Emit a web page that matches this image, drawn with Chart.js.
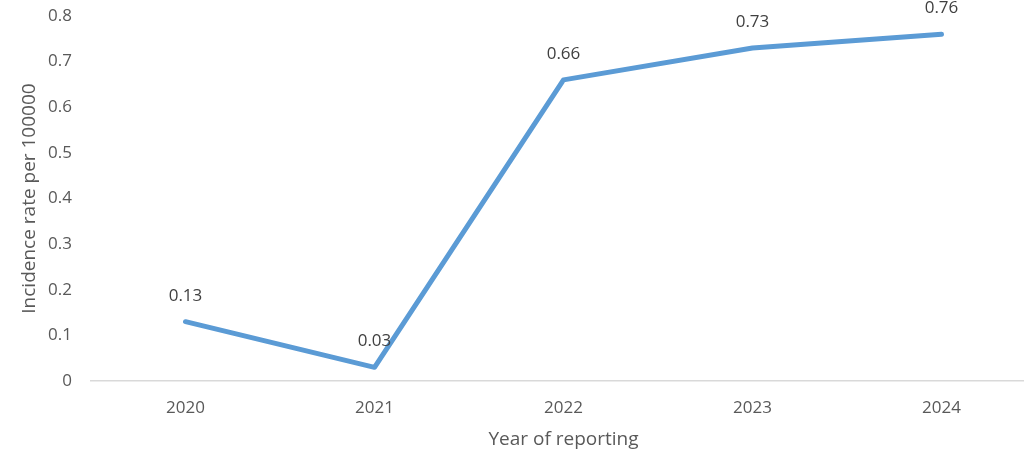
<!DOCTYPE html>
<html>
<head>
<meta charset="utf-8">
<script src="https://cdn.jsdelivr.net/npm/chart.js@4"></script>
<style>
  html, body { margin: 0; padding: 0; background: #fff; overflow: hidden; }
  #wrap { width: 1036px; height: 454px; }
</style>
</head>
<body>
<div id="wrap"><canvas id="chart" width="1036" height="454"></canvas></div>
<script>
// Chart data
const years = ['2020', '2021', '2022', '2023', '2024'];
const incidence = [0.13, 0.03, 0.66, 0.73, 0.76];
const yTicks = [0, 0.1, 0.2, 0.3, 0.4, 0.5, 0.6, 0.7, 0.8];

const textColor = '#595959';
const fontFamily = '"Open Sans", sans-serif';

// Draw value labels above each point
const valueLabels = {
  id: 'valueLabels',
  afterDatasetsDraw(chart) {
    const ctx = chart.ctx;
    const meta = chart.getDatasetMeta(0);
    ctx.save();
    ctx.font = '17px ' + fontFamily;
    ctx.fillStyle = '#404040';
    ctx.textAlign = 'center';
    ctx.textBaseline = 'middle';
    meta.data.forEach((pt, i) => {
      ctx.fillText(String(incidence[i]), pt.x, pt.y - 26);
    });
    ctx.restore();
  }
};

new Chart(document.getElementById('chart').getContext('2d'), {
  type: 'line',
  data: {
    labels: years,
    datasets: [{
      data: incidence,
      borderColor: '#5B9BD5',
      borderWidth: 5,
      pointRadius: 0,
      tension: 0,
      borderCapStyle: 'round',
      borderJoinStyle: 'round'
    }]
  },
  options: {
    responsive: false,
    animation: false,
    layout: { padding: { top: 16, left: 0, right: 0, bottom: 0 } },
    plugins: {
      legend: { display: false },
      tooltip: { enabled: false }
    },
    scales: {
      x: {
        offset: true,
        afterFit(axis) {
          axis.height = 73;
          axis.paddingLeft = 0;
          axis.paddingRight = 0;
        },
        grid: { display: false, drawTicks: false },
        border: { display: true, color: '#d9d9d9', width: 1.5 },
        ticks: { color: textColor, font: { family: fontFamily, size: 17 }, padding: 17 },
        title: {
          display: true,
          text: 'Year of reporting',
          color: textColor,
          font: { family: fontFamily, size: 19 },
          padding: { top: 0, bottom: 3 }
        }
      },
      y: {
        min: 0,
        max: 0.8,
        afterBuildTicks(axis) {
          axis.ticks = yTicks.map(v => ({ value: v }));
        },
        afterFit(axis) {
          axis.width = 91;
          axis.paddingTop = 0;
          axis.paddingBottom = 0;
        },
        grid: { display: false, drawTicks: false },
        border: { display: false },
        ticks: { color: textColor, font: { family: fontFamily, size: 17 }, padding: 19 },
        title: {
          display: true,
          text: 'Incidence rate per 100000',
          color: textColor,
          font: { family: fontFamily, size: 19 },
          padding: { top: 18, bottom: 0 }
        }
      }
    }
  },
  plugins: [valueLabels]
});
</script>
</body>
</html>
